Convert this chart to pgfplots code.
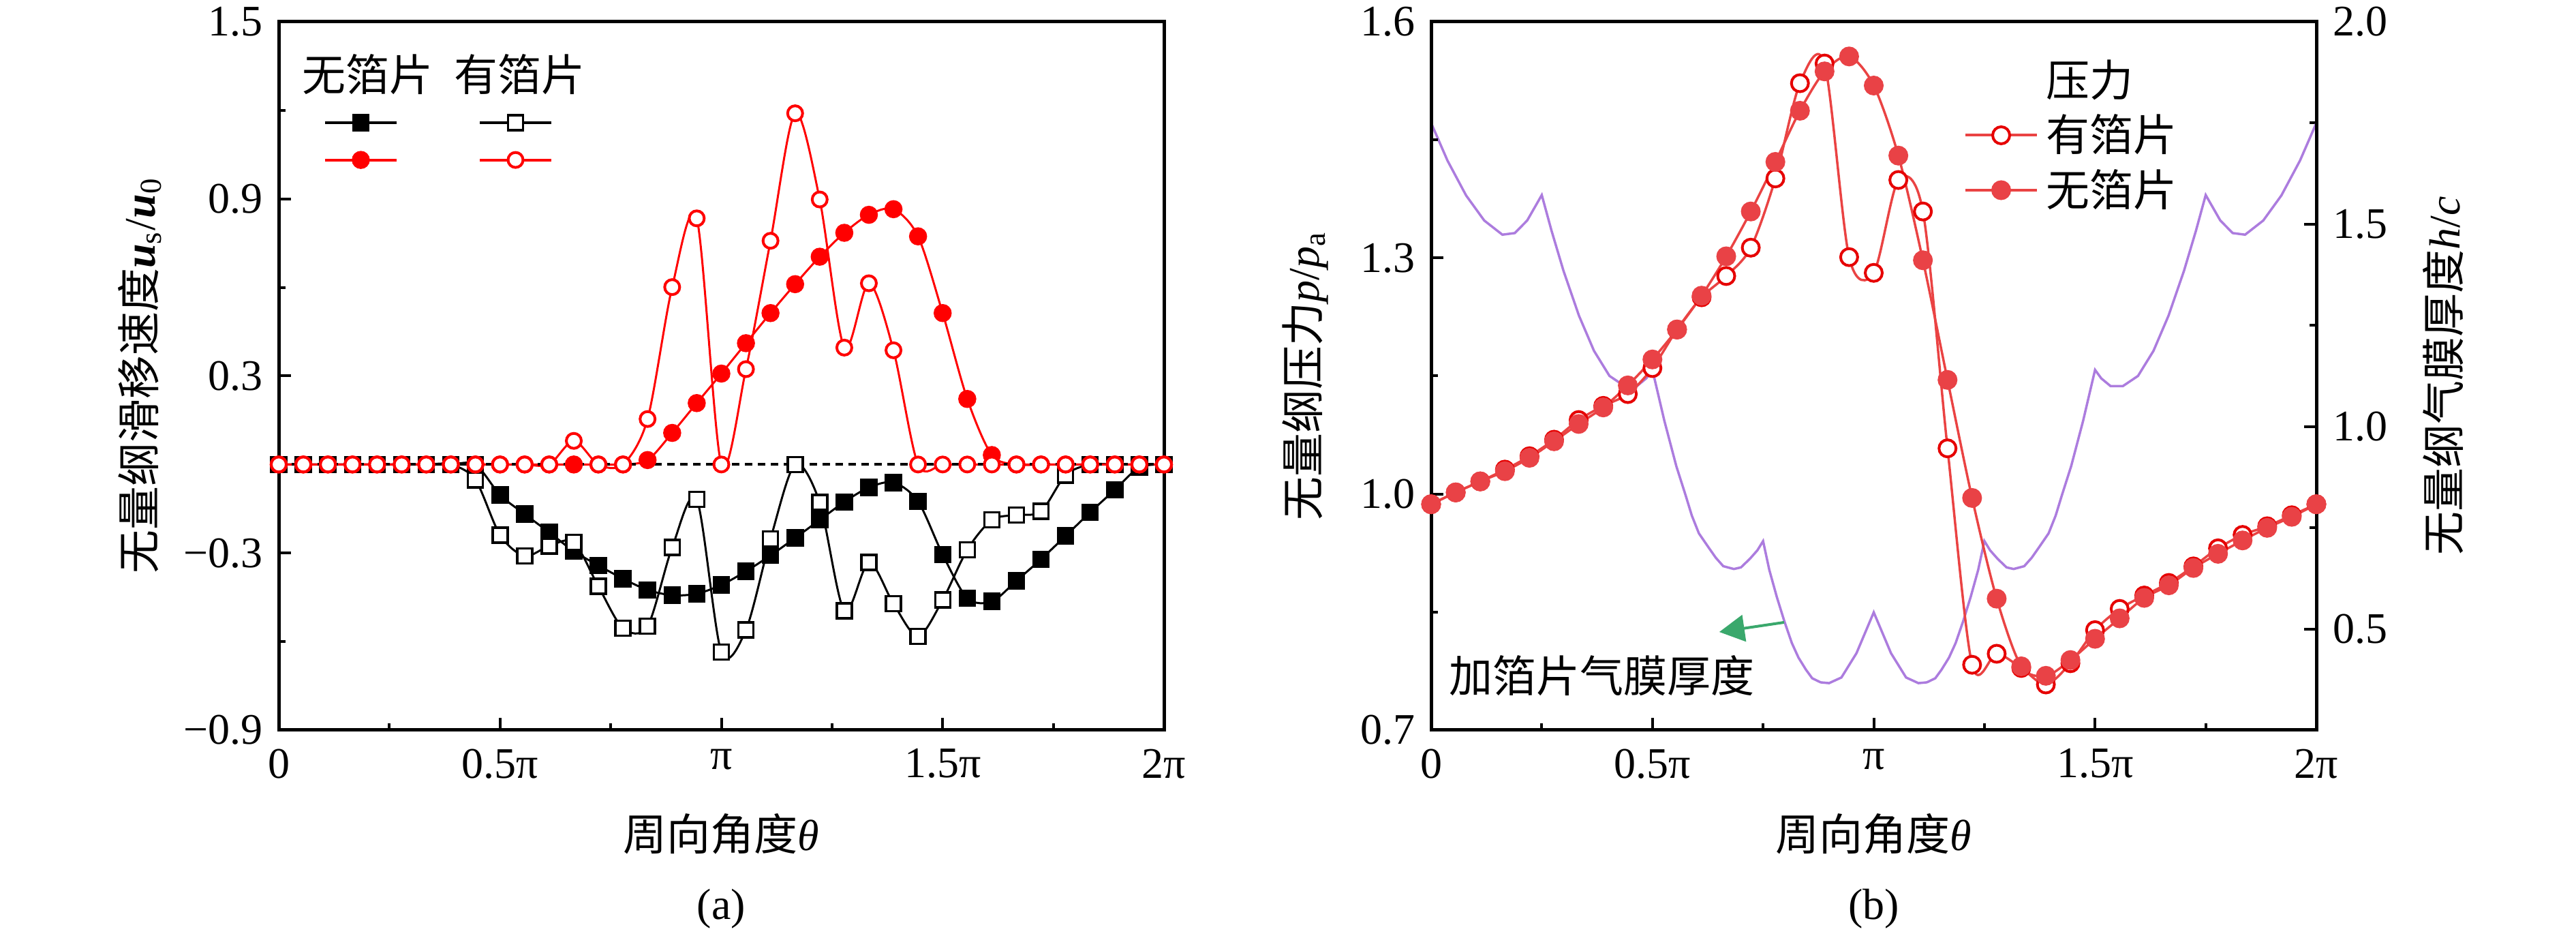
\documentclass[border=0pt]{standalone}
\usepackage{fontspec}
\setmainfont{Liberation Serif}
\newfontfamily\cjk{Noto Sans CJK SC}
\usepackage{pgfplots}
\usepackage{pgfplotstable}
\pgfplotsset{compat=1.18}
\usetikzlibrary{arrows.meta}
\definecolor{pred}{RGB}{234,67,67}
\definecolor{pfill}{RGB}{233,66,70}
\definecolor{pedge}{RGB}{230,0,0}
\definecolor{purp}{RGB}{172,124,222}
\definecolor{grn}{RGB}{58,168,108}

\pgfplotstableread{
x bf bo rf ro
0 0 0 0 0
0.0556 0 0 0 0
0.1111 0 0 0 0
0.1667 0 0 0 0
0.2222 0 0 0 0
0.2778 0 0 0 0
0.3333 0 0 0 0
0.3889 0 0 0 0
0.4444 0 -0.052 0 0
0.5 -0.103 -0.239 0 0
0.5556 -0.168 -0.310 0 0
0.6111 -0.230 -0.276 0 0
0.6667 -0.294 -0.264 0 0.080
0.7222 -0.342 -0.413 0 0
0.7778 -0.387 -0.555 0 0
0.8333 -0.425 -0.548 0.015 0.154
0.8889 -0.443 -0.281 0.107 0.601
0.9444 -0.438 -0.118 0.208 0.834
1 -0.408 -0.636 0.308 0
1.0556 -0.362 -0.560 0.411 0.323
1.1111 -0.308 -0.252 0.513 0.758
1.1667 -0.249 0.000 0.611 1.190
1.2222 -0.188 -0.129 0.704 0.898
1.2778 -0.127 -0.496 0.785 0.396
1.3333 -0.078 -0.332 0.846 0.614
1.3889 -0.061 -0.472 0.865 0.387
1.4444 -0.125 -0.582 0.773 0
1.5 -0.305 -0.459 0.513 0
1.5556 -0.453 -0.289 0.222 0
1.6111 -0.464 -0.188 0.032 0
1.6667 -0.394 -0.171 0 0
1.7222 -0.321 -0.159 0 0
1.7778 -0.242 -0.036 0 0
1.8333 -0.162 0 0 0
1.8889 -0.086 0 0 0
1.9444 -0.010 0 0 0
2 0 0 0 0
}\slip

\pgfplotstableread{
x pf po
0 0.987 0.987
0.0556 1.002 1.002
0.1111 1.016 1.016
0.1667 1.029 1.031
0.2222 1.046 1.048
0.2778 1.067 1.069
0.3333 1.089 1.094
0.3889 1.110 1.112
0.4444 1.138 1.127
0.5 1.171 1.160
0.5556 1.209 1.209
0.6111 1.252 1.250
0.6667 1.302 1.277
0.7222 1.359 1.313
0.7778 1.422 1.401
0.8333 1.487 1.522
0.8889 1.537 1.547
0.9444 1.556 1.301
1 1.519 1.281
1.0556 1.430 1.399
1.1111 1.297 1.359
1.1667 1.145 1.058
1.2222 0.995 0.783
1.2778 0.867 0.797
1.3333 0.781 0.779
1.3889 0.769 0.758
1.4444 0.789 0.785
1.5 0.816 0.827
1.5556 0.842 0.854
1.6111 0.868 0.871
1.6667 0.884 0.887
1.7222 0.906 0.908
1.7778 0.924 0.931
1.8333 0.941 0.948
1.8889 0.957 0.959
1.9444 0.971 0.973
2 0.987 0.987
}\pres

\pgfplotstableread{
x h
0 1.750
0.037 1.657
0.079 1.571
0.120 1.509
0.161 1.474
0.189 1.478
0.217 1.509
0.250 1.572
0.272 1.484
0.299 1.385
0.334 1.274
0.368 1.187
0.403 1.125
0.437 1.100
0.465 1.100
0.486 1.119
0.500 1.140
0.527 1.014
0.554 0.902
0.575 0.830
0.589 0.780
0.605 0.736
0.627 0.701
0.643 0.676
0.660 0.655
0.684 0.648
0.700 0.652
0.720 0.673
0.737 0.694
0.750 0.717
0.764 0.646
0.781 0.579
0.798 0.519
0.815 0.465
0.830 0.429
0.847 0.399
0.861 0.378
0.880 0.368
0.899 0.366
0.927 0.380
0.961 0.440
1.000 0.541
1.039 0.440
1.073 0.380
1.101 0.366
1.120 0.368
1.139 0.378
1.153 0.399
1.170 0.429
1.185 0.465
1.202 0.519
1.219 0.579
1.236 0.646
1.250 0.717
1.263 0.694
1.280 0.673
1.300 0.652
1.316 0.648
1.340 0.655
1.357 0.676
1.373 0.701
1.395 0.736
1.411 0.780
1.425 0.830
1.446 0.902
1.473 1.014
1.500 1.140
1.514 1.119
1.535 1.100
1.563 1.100
1.597 1.125
1.632 1.187
1.666 1.274
1.701 1.385
1.728 1.484
1.750 1.572
1.783 1.509
1.811 1.478
1.839 1.474
1.880 1.509
1.921 1.571
1.963 1.657
2.000 1.750
}\film

\pgfplotsset{
  base/.style={
    scale only axis, width=259.8pt, height=207.8pt,
    xmin=0, xmax=2, clip=false,
    font=\fontsize{12.8}{15.4}\selectfont,
    tick align=inside,
    major tick length=3.6pt, minor tick length=2pt,
    every tick/.style={black, line width=0.8pt},
    axis line style={line width=1pt},
    xtick={0,0.5,1,1.5,2},
    xticklabels={0,0.5π,π,1.5π,2π},
    minor xtick={0.25,0.75,1.25,1.75},
    xtick pos=left,
    xticklabel style={yshift=-2pt},
    legend image code/.code={\draw[mark repeat=2,mark phase=2,#1,line width=0.8pt] plot coordinates {(0pt,0pt) (10.5pt,0pt) (21pt,0pt)};},
  },
}

\begin{document}
\begin{tikzpicture}[font=\fontsize{12.8}{15.4}\selectfont]
\useasboundingbox (0,0) rectangle (756pt,274.6pt);

% ---------- (a) ----------
\begin{axis}[base, at={(81.8pt,60.4pt)}, anchor=south west,
  ymin=-0.9, ymax=1.5,
  ytick={-0.9,-0.3,0.3,0.9,1.5},
  yticklabels={−0.9,−0.3,0.3,0.9,1.5},
  minor ytick={-0.6,0,0.6,1.2},
  ytick pos=left,
  yticklabel style={xshift=-1.1pt},
  legend columns=2,
  legend style={draw=none, fill=none, at={(0.0508,0.8745)}, anchor=north west,
    inner sep=0pt, outer sep=0pt, nodes={inner sep=0pt}, /tikz/row sep=3.8pt,
    /tikz/every even column/.append style={column sep=22.6pt}},
]
\addplot[black, line width=0.6pt, smooth, mark=square*, mark size=2.2pt,
  mark options={solid, fill=black, line width=0.7pt}] table[x=x,y=bf]{\slip};
\addlegendentry{\rule[-5.6pt]{0pt}{11.2pt}}
\addplot[black, line width=0.6pt, smooth, mark=square*, mark size=2.2pt,
  mark options={solid, fill=white, line width=0.7pt}] table[x=x,y=bo]{\slip};
\addlegendentry{\rule[-5.6pt]{0pt}{11.2pt}}
\addplot[red, line width=0.6pt, smooth, mark=*, mark size=2.3pt,
  mark options={solid, fill=red, line width=0.7pt}] table[x=x,y=rf]{\slip};
\addlegendentry{\rule[-5.6pt]{0pt}{11.2pt}}
\addplot[red, line width=0.6pt, smooth, mark=*, mark size=2.2pt,
  mark options={solid, fill=white, line width=0.8pt}] table[x=x,y=ro]{\slip};
\addlegendentry{\rule[-5.6pt]{0pt}{11.2pt}}
\addplot[black, line width=0.8pt, dash pattern=on 2.2pt off 1.6pt, forget plot] coordinates {(0,0) (2,0)};
\node at (axis cs:0.2002,1.322) {\cjk 无箔片};
\node at (axis cs:0.5435,1.322) {\cjk 有箔片};
\end{axis}

% ---------- (b) film thickness (right axis) ----------
\begin{axis}[base, at={(420pt,60.4pt)}, anchor=south west,
  axis x line=none, axis y line*=right,
  ymin=0.25, ymax=2.0,
  ytick={0.5,1.0,1.5,2.0},
  yticklabels={0.5,1.0,1.5,2.0},
  minor ytick={0.75,1.25,1.75},
  yticklabel style={xshift=1.3pt},
]
\addplot[purp, line width=0.7pt] table[x=x,y=h]{\film};
\end{axis}

% ---------- (b) pressure (left axis) ----------
\begin{axis}[base, at={(420pt,60.4pt)}, anchor=south west,
  ymin=0.7, ymax=1.6,
  ytick={0.7,1.0,1.3,1.6},
  yticklabels={0.7,1.0,1.3,1.6},
  minor ytick={0.85,1.15,1.45},
  ytick pos=left,
  yticklabel style={xshift=-1.1pt},
  legend cell align=left,
  legend style={draw=none, fill=none, at={(0.602,0.9465)}, anchor=north west,
    inner sep=0pt, outer sep=0pt, nodes={inner sep=0pt}, /tikz/row sep=3.8pt,
    /tikz/every odd column/.append style={column sep=2.2pt}},
]
\addlegendimage{empty legend}
\addlegendentry{\cjk 压力}
\addplot[pred, line width=0.7pt, smooth, mark=*, mark size=2.5pt,
  mark options={solid, draw=pedge, fill=white, line width=0.8pt}] table[x=x,y=po]{\pres};
\addlegendentry{\cjk 有箔片}
\addplot[pred, line width=0.7pt, smooth, mark=*, mark size=2.5pt,
  mark options={solid, draw=pfill, fill=pfill, line width=0.8pt}] table[x=x,y=pf]{\pres};
\addlegendentry{\cjk 无箔片}
\draw[grn, line width=0.8pt, -{Triangle[length=7.4pt,width=7.8pt]}] (axis cs:0.7975,0.8369) -- (axis cs:0.651,0.8247);
\node at (axis cs:0.385,0.7693) {\cjk 加箔片气膜厚度};
\end{axis}

% ---------- labels ----------
\node at (211.7pt,30pt) {{\cjk 周向角度}\textit{θ}};
\node at (211.7pt,8pt) {(a)};
\node at (549.9pt,30pt) {{\cjk 周向角度}\textit{θ}};
\node at (549.9pt,8pt) {(b)};
\node[rotate=90] at (41pt,164.4pt) {{\cjk 无量纲滑移速度}\textbf{\textit{u}}\textsubscript{s}/\textbf{\textit{u}}\textsubscript{0}};
\node[rotate=90] at (383pt,164.4pt) {{\cjk 无量纲压力}\textit{p}/\textit{p}\textsubscript{a}};
\node[rotate=90] at (717pt,164.4pt) {{\cjk 无量纲气膜厚度}\textit{h}/\textit{c}};
\end{tikzpicture}
\end{document}
